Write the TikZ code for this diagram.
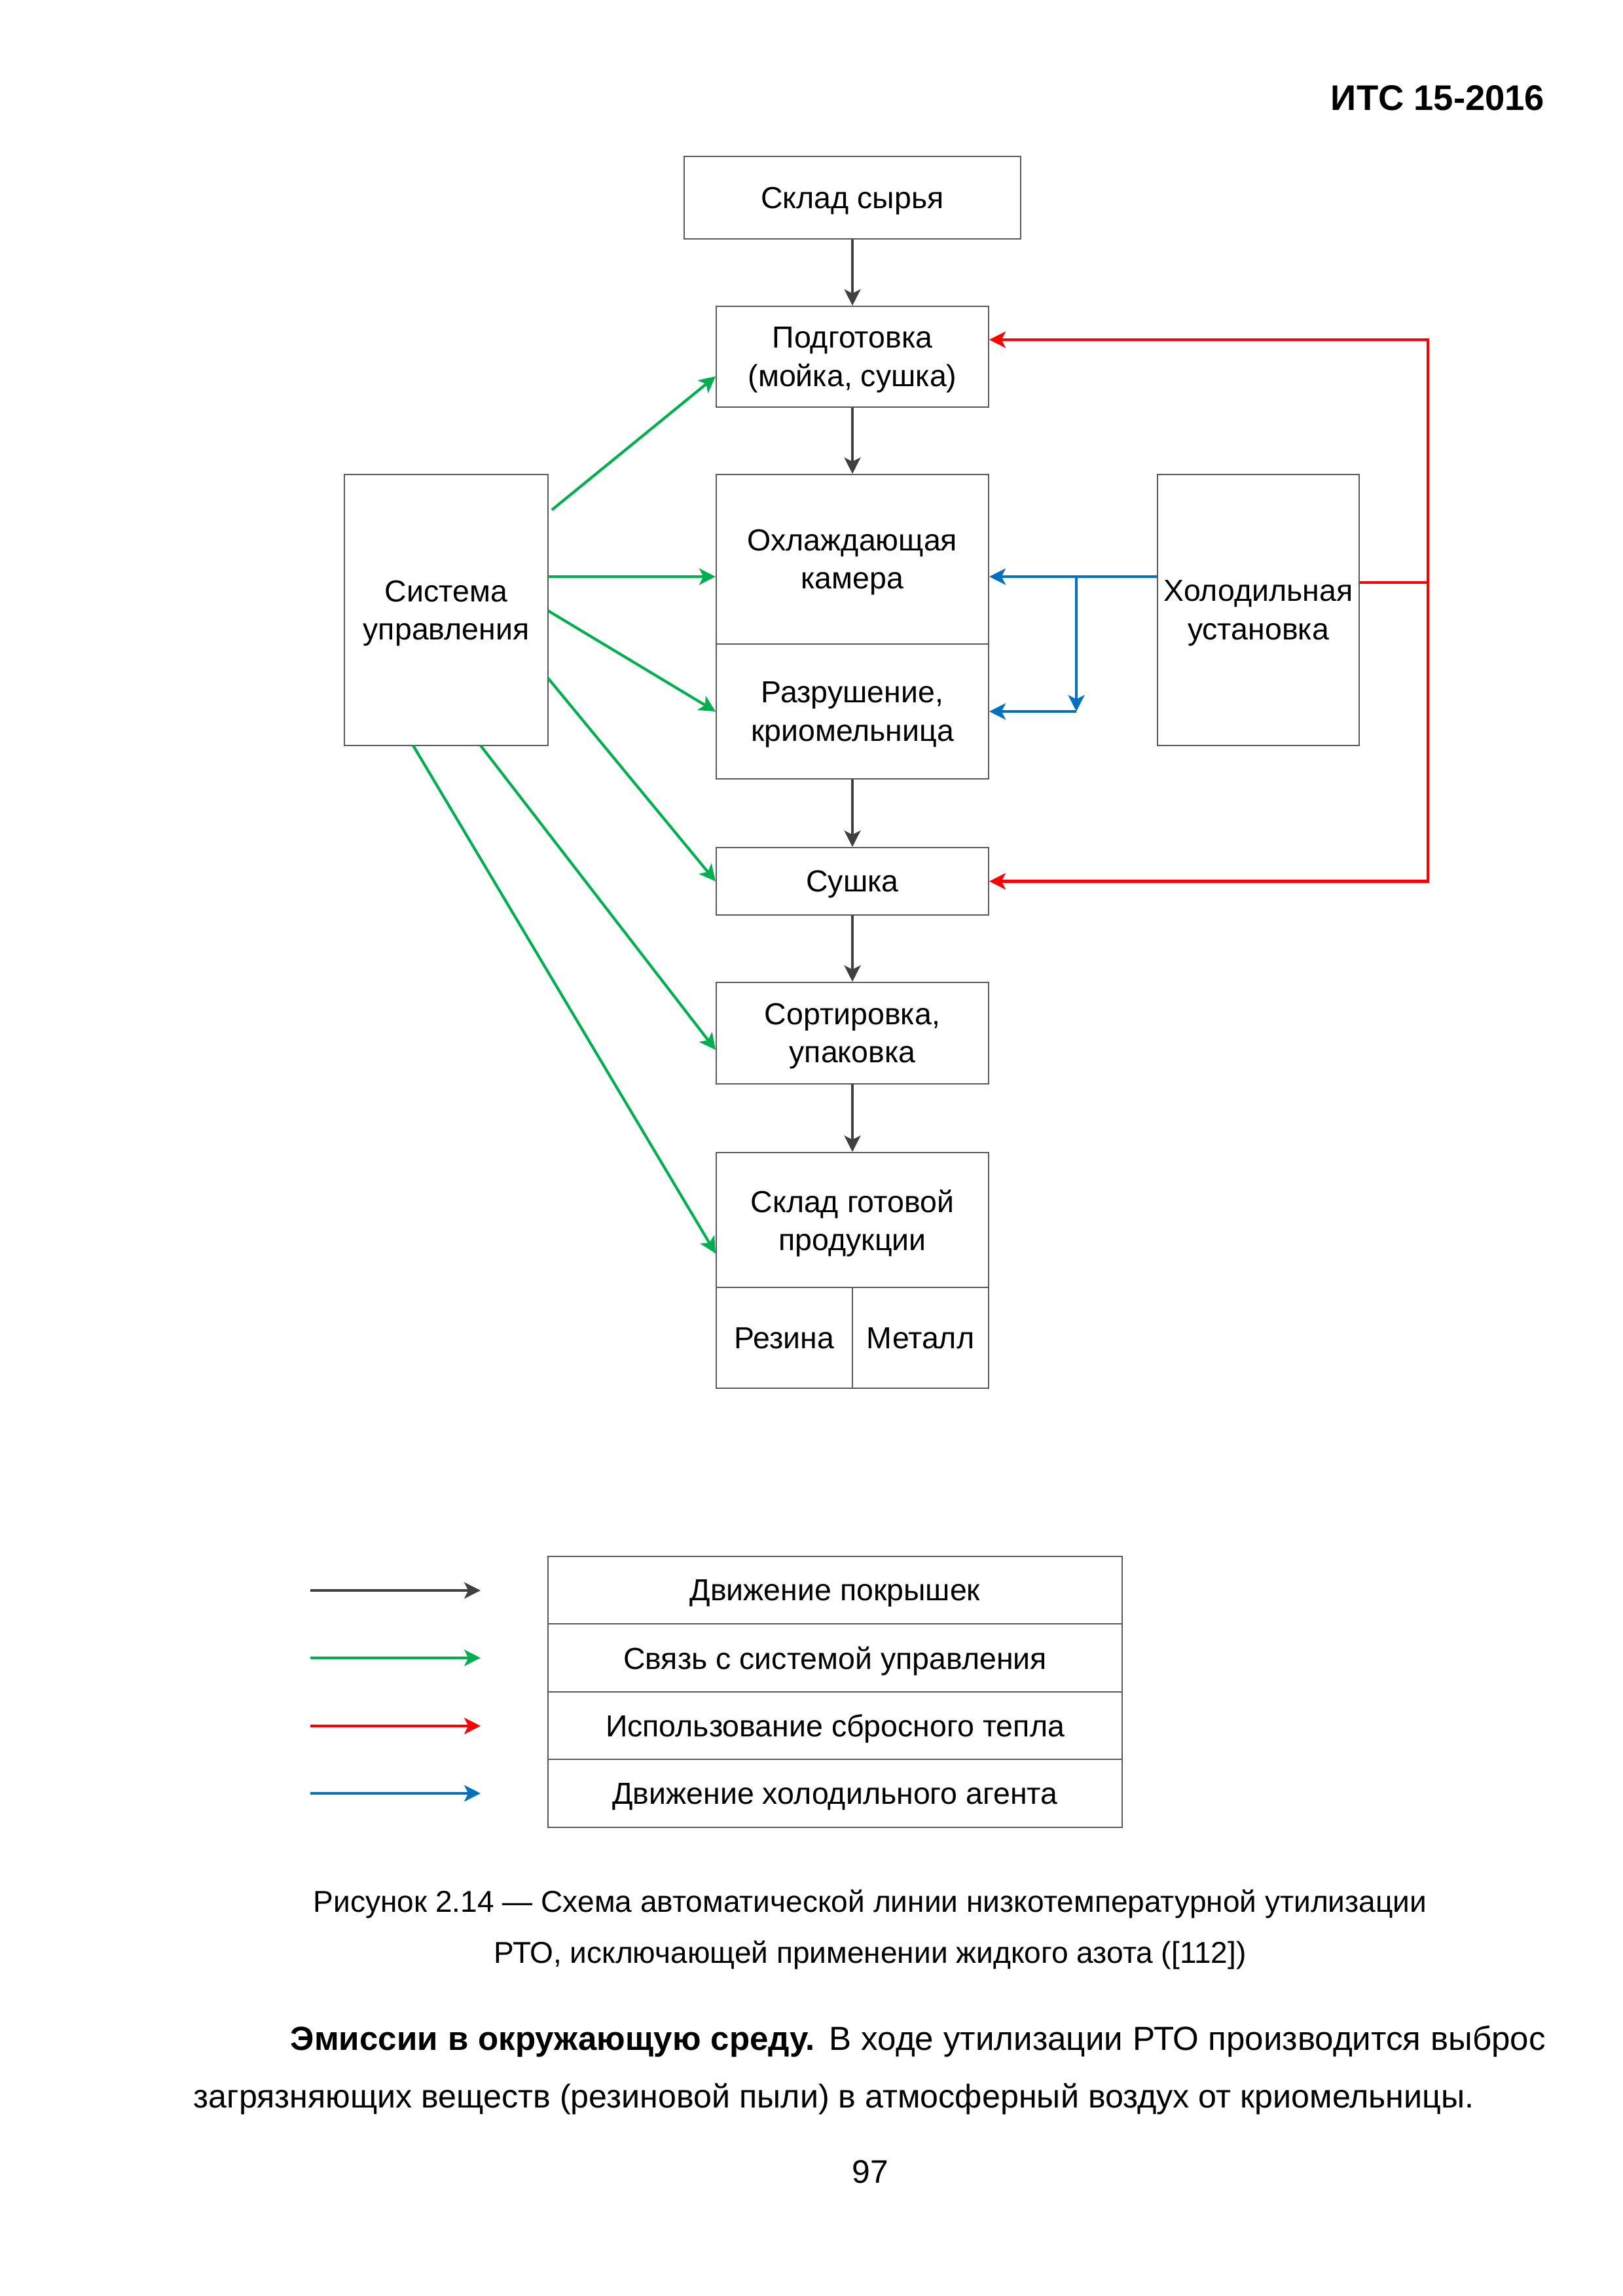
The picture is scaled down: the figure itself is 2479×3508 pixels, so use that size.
\documentclass[tikz,border=0pt]{standalone}
\usepackage{fontspec}
\setmainfont{Liberation Sans}
\usetikzlibrary{arrows.meta,calc}
\definecolor{cgrey}{HTML}{404040}
\definecolor{cgreen}{HTML}{00B050}
\definecolor{cred}{HTML}{FF0000}
\definecolor{cblue}{HTML}{0070C0}
\definecolor{cborder}{HTML}{595959}
\newdimen\pxu \pxu=0.24090pt
\begin{document}
\begin{tikzpicture}[x=0.2409pt,y=-0.2409pt,
  box/.style={draw=cborder, line width=0.5pt, align=center, inner sep=0pt, text depth=0pt,
    font=\fontsize{11.2}{14}\selectfont},
  arr/.style={line width=1pt, -{Stealth[length=6pt,width=6pt,inset=1.5pt]}},
  greyarr/.style={arr, draw=cgrey},
  greenarr/.style={arr, draw=cgreen},
  redarr/.style={arr, draw=cred},
  bluearr/.style={arr, draw=cblue},
  plain/.style={inner sep=0pt, align=center, text depth=0pt}
]
\fill[white] (0,0) rectangle (2479,3508);
\useasboundingbox (0,0) rectangle (2479,3508);

% header
\node[plain, anchor=east, font=\fontsize{13.1}{16}\selectfont\bfseries] (hdr) at (2360,150) {ИТС 15-2016};

% main column
\node[box, minimum width=514\pxu, minimum height=126\pxu] (sklad) at (1302,302) {Склад сырья};
\node[box, minimum width=416\pxu, minimum height=154\pxu] (podg) at (1302,545) {Подготовка\\(мойка, сушка)};
\node[box, minimum width=416\pxu, minimum height=259\pxu] (ohl) at (1302,854.5) {Охлаждающая\\камера};
\node[box, minimum width=416\pxu, minimum height=206\pxu] (razr) at (1302,1087) {Разрушение,\\криомельница};
\node[box, minimum width=416\pxu, minimum height=103\pxu] (sush) at (1302,1346.5) {Сушка};
\node[box, minimum width=416\pxu, minimum height=155\pxu] (sort) at (1302,1578.5) {Сортировка,\\упаковка};
\node[box, minimum width=416\pxu, minimum height=206\pxu] (gotov) at (1302,1864) {Склад готовой\\продукции};
\node[box, minimum width=208\pxu, minimum height=154\pxu] (rez) at (1198,2044) {Резина};
\node[box, minimum width=208\pxu, minimum height=154\pxu] (met) at (1406,2044) {Металл};

% side boxes
\node[box, minimum width=311\pxu, minimum height=414\pxu] (sys) at (681.5,932) {Система\\управления};
\node[box, minimum width=308\pxu, minimum height=414\pxu] (hol) at (1922,932) {Холодильная\\установка};

% grey flow
\draw[greyarr] (sklad.south) -- (podg.north);
\draw[greyarr] (podg.south) -- (ohl.north);
\draw[greyarr] (razr.south) -- (sush.north);
\draw[greyarr] (sush.south) -- (sort.north);
\draw[greyarr] (sort.south) -- (gotov.north);

% green control links
\coordinate (g1) at (843,779);
\coordinate (g2) at (837,881);
\coordinate (g3) at (837,933);
\coordinate (g4) at (837,1036);
\coordinate (g5) at (734,1139);
\coordinate (g6) at (631,1139);
\draw[greenarr] (g1) -- (podg.west |- 0,575);
\draw[greenarr] (g2) -- (ohl.west |- g2);
\draw[greenarr] (g3) -- (razr.west);
\draw[greenarr] (g4) -- (sush.west);
\draw[greenarr] (g5) -- (sort.west |- 0,1604);
\draw[greenarr] (g6) -- (gotov.west |- 0,1915);

% red heat
\coordinate (rm) at (2181,890);
\coordinate (rt) at (2181,519);
\coordinate (rb) at (2181,1346.5);
\draw[cred, line width=1pt] (hol.east |- rm) -- (rm);
\draw[redarr] (rm) -- (rt) -- (podg.east |- rt);
\draw[redarr] (rm) -- (rb) -- (sush.east);

% blue refrigerant
\coordinate (bj) at (1644,881);
\coordinate (bd) at (1644,1087);
\draw[bluearr] (hol.west |- bj) -- (ohl.east |- bj);
\draw[bluearr] (bj) -- (bd);
\draw[bluearr] (bd) -- (razr.east);

% legend
\node[box, minimum width=877\pxu, minimum height=103.5\pxu] (l1) at (1275.5,2429.5) {Движение покрышек};
\node[box, minimum width=877\pxu, minimum height=103.5\pxu] (l2) at (1275.5,2533) {Связь с системой управления};
\node[box, minimum width=877\pxu, minimum height=103.5\pxu] (l3) at (1275.5,2636.5) {Использование сбросного тепла};
\node[box, minimum width=877\pxu, minimum height=103.5\pxu] (l4) at (1275.5,2740) {Движение холодильного агента};
\coordinate (a1) at (474,2430); \coordinate (b1) at (734,2430);
\coordinate (a2) at (474,2533); \coordinate (b2) at (734,2533);
\coordinate (a3) at (474,2637); \coordinate (b3) at (734,2637);
\coordinate (a4) at (474,2740); \coordinate (b4) at (734,2740);
\draw[greyarr] (a1) -- (b1);
\draw[greenarr] (a2) -- (b2);
\draw[redarr] (a3) -- (b3);
\draw[bluearr] (a4) -- (b4);

% caption
\node[plain, font=\fontsize{11.1}{14}\selectfont] (cap1) at (1329,2904) {Рисунок 2.14 — Схема автоматической линии низкотемпературной утилизации};
\node[plain, font=\fontsize{11.1}{14}\selectfont] (cap2) at (1329,2982) {РТО, исключающей применении жидкого азота ([112])};

% paragraph
\node[plain, anchor=west, font=\fontsize{12.3}{16}\selectfont] (par1) at (443,3114)
  {\makebox[1917\pxu][s]{\textbf{Эмиссии в окружающую среду.} В ходе утилизации РТО производится выброс}};
\node[plain, anchor=west, font=\fontsize{12.1}{16}\selectfont] (par2) at (295,3202)
  {загрязняющих веществ (резиновой пыли) в атмосферный воздух от криомельницы.};

% page number
\node[plain, font=\fontsize{12}{16}\selectfont] (pnum) at (1329,3318) {97};
\end{tikzpicture}
\end{document}
